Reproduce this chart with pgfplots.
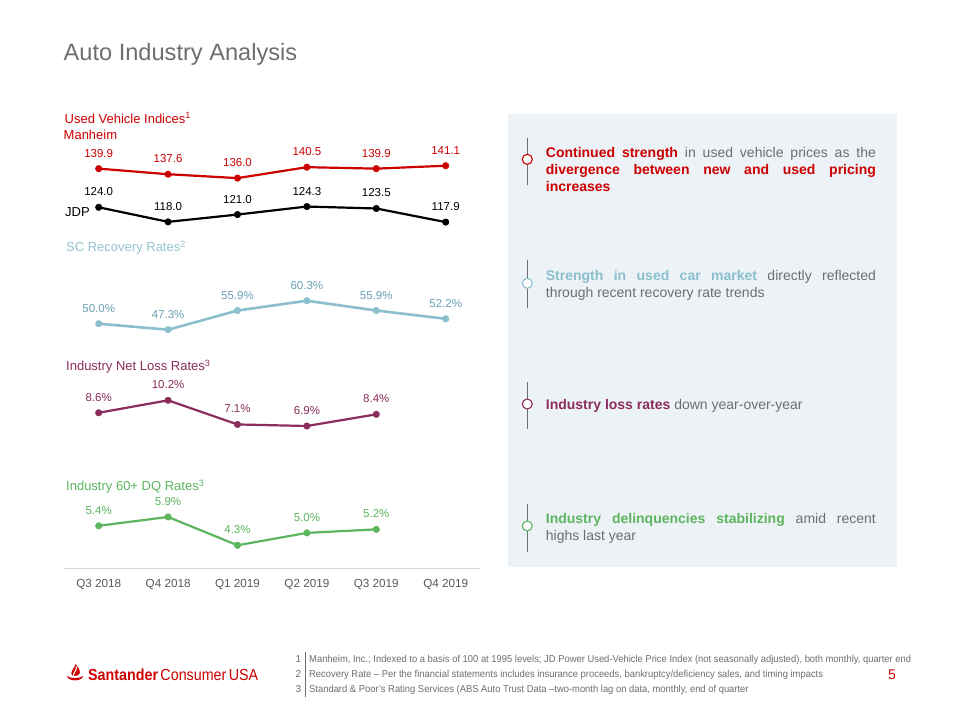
\documentclass[border=0pt]{standalone}
\usepackage{pgfplots}
\pgfplotsset{compat=1.18}
\usepackage{fontspec}
\setmainfont{Liberation Sans}
\usepackage{graphicx}
\definecolor{cred}{HTML}{CC0000}
\definecolor{cgray}{HTML}{6D6E71}
\definecolor{ctick}{HTML}{595959}
\definecolor{cblue}{HTML}{8CBFCD}
\definecolor{cbluelab}{HTML}{6AA2B4}
\definecolor{cbluetit}{HTML}{95C3D1}
\definecolor{cpurple}{HTML}{8B2D5D}
\definecolor{cgreen}{HTML}{5DB55E}
\definecolor{cpanel}{HTML}{ECF2F6}
\definecolor{cline}{HTML}{D9D9D9}
\newsavebox\fboxa
\newlength\fla
\pgfplotsset{
  baseplain/.style={scale only axis, width=416.4pt, xmin=-0.5, xmax=5.5, clip=false,
    anchor=south west, /pgf/number format/assume math mode=true,
    every node near coord/.append style={anchor=base, yshift=11.5pt, inner sep=0pt, font=\fontsize{11.5}{13}\selectfont}},
  base/.style={baseplain, hide axis},
  ln/.style={line width=2.2pt, mark=*, mark size=3.3pt, mark options={solid, line width=0.4pt}},
  numlab/.style={nodes near coords={\pgfmathprintnumber[fixed,fixed zerofill,precision=1]{\pgfplotspointmeta}}},
  pctlab/.style={nodes near coords={\pgfmathprintnumber[fixed,fixed zerofill,precision=1]{\pgfplotspointmeta}\%}},
}
\begin{document}%
\sbox\fboxa{\fontsize{10}{12}\selectfont Manheim, Inc.; Indexed to a basis of 100 at 1995 levels; JD Power Used-Vehicle Price Index (not seasonally adjusted), both monthly, quarter end}%
\setlength\fla{\wd\fboxa}%
\pgfmathsetmacro\fs{602/\fla}%
\begin{tikzpicture}[x=1pt,y=1pt]
\fill[white] (0,0) rectangle (960,720);
\begin{scope}[shift={(0,720)},yscale=-1]
  % right panel
  \fill[cpanel] (508,114) rectangle (897,567);
  % title
  \node[anchor=base west, inner sep=0, text=cgray, font=\fontsize{23.6}{28}\selectfont] at (63.5,61) {Auto Industry Analysis};
  % section titles
  \begin{scope}[every node/.style={anchor=base west, inner sep=0, font=\fontsize{13}{15}\selectfont}]
    \node[text=cred] at (64.5,123.3) {Used Vehicle Indices\textsuperscript{1}};
    \node[text=cred] at (63.5,139.7) {Manheim};
    \node[text=black] at (65,216.3) {JDP};
    \node[text=cbluetit] at (66,251.7) {SC Recovery Rates\textsuperscript{2}};
    \node[text=cpurple] at (66,370.5) {Industry Net Loss Rates\textsuperscript{3}};
    \node[text=cgreen] at (66,490.7) {Industry 60+ DQ Rates\textsuperscript{3}};
  \end{scope}
  % timeline markers
  \foreach \yc/\ya/\yb/\c in {159.3/138/185/cred, 283.3/260/307.7/cblue, 404/381.7/429.3/cpurple, 526/504.3/552.3/cgreen} {
    \draw[cgray, line width=1.3] (527.3,\ya) -- (527.3,\yb);
    \draw[\c, fill=white, line width=1.1] (527.3,\yc) circle (5);
  }
  % paragraphs
  \begin{scope}[every node/.style={anchor=base west, inner sep=0, text=cgray, font=\fontsize{14}{16.7}\selectfont}]
    \node at (545.7,157.7) {\makebox[330pt][s]{{\bfseries\color{cred}Continued strength} in used vehicle prices as the}};
    \node at (545.7,174.4) {\makebox[330pt][s]{\bfseries\color{cred}divergence between new and used pricing}};
    \node at (545.7,191.1) {{\bfseries\color{cred}increases}};
    \node at (545.7,280.7) {\makebox[330pt][s]{{\bfseries\color{cblue}Strength in used car market} directly reflected}};
    \node at (545.7,297.6) {through recent recovery rate trends};
    \node at (545.7,410) {{\bfseries\color{cpurple}Industry loss rates} down year-over-year};
    \node at (545.7,523.3) {\makebox[330pt][s]{{\bfseries\color{cgreen}Industry delinquencies stabilizing} amid recent}};
    \node at (545.7,540.5) {highs last year};
  \end{scope}
  % footnotes
  \draw[cgray, line width=0.6] (305,652) -- (305,697);
  \begin{scope}[every node/.style={inner sep=0, text=cgray, font=\fontsize{10}{12}\selectfont}]
    \node[anchor=base east] at (301.5,662.6) {1};
    \node[anchor=base east] at (301.5,677.6) {2};
    \node[anchor=base east] at (301.5,692.6) {3};
    \node[anchor=base west] at (309,662.6) {\scalebox{\fs}[1]{Manheim, Inc.; Indexed to a basis of 100 at 1995 levels; JD Power Used-Vehicle Price Index (not seasonally adjusted), both monthly, quarter end}};
    \node[anchor=base west] at (309,677.6) {\scalebox{\fs}[1]{Recovery Rate – Per the financial statements includes insurance proceeds, bankruptcy/deficiency sales, and timing impacts}};
    \node[anchor=base west] at (309,692.6) {\scalebox{\fs}[1]{Standard \& Poor’s Rating Services (ABS Auto Trust Data –two-month lag on data, monthly, end of quarter}};
  \end{scope}
  \node[anchor=base, inner sep=0, text=cred, font=\fontsize{14}{16}\selectfont] at (892,679) {5};
  % logo
  \fill[cred] (67,676) .. controls (67.5,681.8) and (82.5,681.8) .. (83,676) .. controls (80,678.8) and (70,678.8) .. cycle;
  \fill[cred] (75.5,664) .. controls (77.5,667) and (80.5,669.5) .. (79.8,673) .. controls (79,676.5) and (72,677) .. (71.3,674) .. controls (70.8,671) and (74.5,668.5) .. cycle;
  \draw[white, line width=1.1] (73.6,676) .. controls (73,672.5) and (77.2,670.5) .. (76.3,666.5);
  \node[anchor=base west, inner sep=0, text=cred] at (88,680.7) {\resizebox{170pt}{\height}{\fontsize{16}{18}\selectfont\textbf{Santander}\,Consumer\,USA}};
\end{scope}

% Used vehicle indices
\begin{axis}[base, at={(64pt,478.7pt)}, height=97.2pt, ymin=110, ymax=150]
  \addplot[cred, ln, numlab, nodes near coords style={text=cred}] coordinates {(0,139.9)(1,137.6)(2,136.0)(3,140.5)(4,139.9)(5,141.1)};
  \addplot[black, ln, numlab, nodes near coords style={text=black}] coordinates {(0,124.0)(1,118.0)(2,121.0)(3,124.3)(4,123.5)(5,117.9)};
\end{axis}
% Recovery rates
\begin{axis}[base, at={(64pt,374.0pt)}, height=66.9pt, ymin=40, ymax=70]
  \addplot[cblue, ln, line width=2.6pt, pctlab, nodes near coords style={text=cbluelab}] coordinates {(0,50.0)(1,47.3)(2,55.9)(3,60.3)(4,55.9)(5,52.2)};
\end{axis}
% Net loss
\begin{axis}[base, at={(64pt,279.2pt)}, height=54.5pt, ymin=5, ymax=12]
  \addplot[cpurple, ln, pctlab, nodes near coords style={text=cpurple}] coordinates {(0,8.6)(1,10.2)(2,7.1)(3,6.9)(4,8.4)};
\end{axis}
% DQ rates + x axis
\begin{axis}[baseplain, at={(64pt,151pt)}, height=62.66pt, ymin=2.96, ymax=6.5,
  axis x line=bottom, axis y line=none, x axis line style={-, draw=cline, line width=1pt},
  xtick={0,1,2,3,4,5}, xticklabels={Q3 2018,Q4 2018,Q1 2019,Q2 2019,Q3 2019,Q4 2019},
  major tick length=0pt, ytick=\empty,
  xticklabel style={anchor=base, yshift=-18.2pt, inner sep=0pt, text=ctick, font=\fontsize{11.7}{14}\selectfont}]
  \addplot[cgreen, ln, pctlab, nodes near coords style={text=cgreen}] coordinates {(0,5.4)(1,5.9)(2,4.3)(3,5.0)(4,5.2)};
\end{axis}
\end{tikzpicture}%
\end{document}
